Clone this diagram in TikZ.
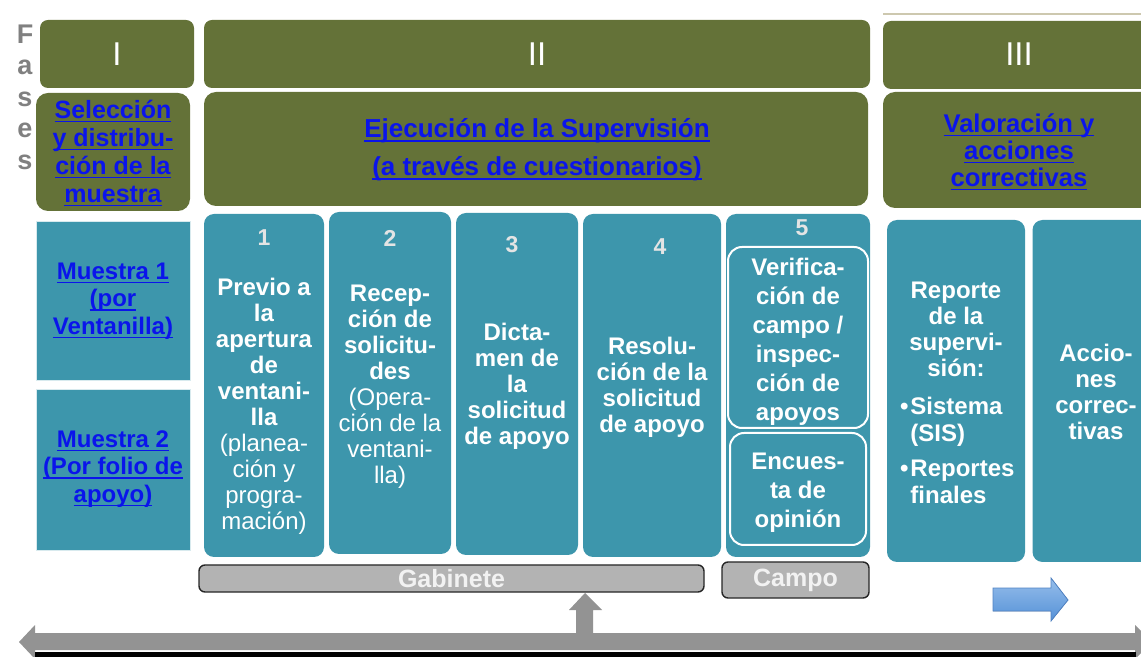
\documentclass[tikz,border=0pt]{standalone}
\usepackage{fontspec}
\setmainfont{Liberation Sans}
\usepackage{xcolor}
\definecolor{fasegreen}{RGB}{100,114,56}
\definecolor{tealbox}{RGB}{61,150,172}
\definecolor{linkblue}{RGB}{10,20,235}
\definecolor{barGray}{RGB}{179,179,179}
\definecolor{arrowGray}{RGB}{147,147,147}
\definecolor{letterGray}{RGB}{128,128,128}
\definecolor{numGray}{RGB}{228,228,228}
\definecolor{lineTan}{RGB}{205,200,175}
\definecolor{blueTop}{RGB}{150,190,235}
\definecolor{blueBot}{RGB}{85,145,215}
\definecolor{blueEdge}{RGB}{80,130,195}
\tikzstyle{phase} = [rectangle,rounded corners=4pt,fill=fasegreen,inner sep=0pt]
\tikzstyle{stage} = [rectangle,rounded corners=5pt,fill=tealbox,inner sep=0pt]
\newlength\lnkwd
\newcommand\lnk[1]{\settowidth\lnkwd{#1}\rlap{\rule[-2pt]{\lnkwd}{0.8pt}}#1}

\begin{document}
\begin{tikzpicture}
        [
            x=0.5pt,y=-0.5pt,
            roman/.style={text=white,font=\fontsize{16.5}{18}\selectfont},
            link/.style={text=linkblue,align=center,font=\fontsize{12.5}{14}\selectfont\bfseries},
            body/.style={text=white,align=center,font=\fontsize{12}{13}\selectfont\bfseries},
            num/.style={text=numGray,font=\fontsize{11.5}{13}\selectfont\bfseries},
            inner/.style={rectangle,rounded corners=7pt,draw=white,line width=1pt,inner sep=0pt},
            tag/.style={rectangle,rounded corners=3pt,fill=barGray,draw=black!85,line width=0.7pt,inner sep=0pt,
                text=white!95!black,font=\fontsize{12.5}{14}\selectfont\bfseries},
        ]
    \useasboundingbox (0,0) rectangle (1141,657);

    % fases
    \node[text=letterGray,align=center,font=\fontsize{13.5}{15.75}\selectfont\bfseries] (fases) at (25,97) {F\\a\\s\\e\\s};
    \draw[lineTan,line width=0.6pt] (883,14) -- (1141,14);

    % headers
    \node[phase,minimum width=77pt,minimum height=34pt] (h1) at (117,54) {};
    \node[phase,minimum width=333pt,minimum height=34pt] (h2) at (537,54) {};
    \node[phase,minimum width=136pt,minimum height=34pt] (h3) at (1019,55) {};
    \node[roman] (r1) at (h1) {I};
    \node[roman] (r2) at (h2) {II};
    \node[roman] (r3) at (1019,54) {III};

    \node[phase,rounded corners=6pt,minimum width=77pt,minimum height=59pt] (sel) at (113,152) {};
    \node[phase,rounded corners=6pt,minimum width=332pt,minimum height=57pt] (eje) at (536,149) {};
    \node[phase,rounded corners=6pt,minimum width=136pt,minimum height=58pt] (val) at (1019,150) {};
    \node[link] (selt) at (113,153) {\lnk{Selección}\\\lnk{y distribu-}\\\lnk{ción de la}\\\lnk{muestra}};
    \node[link,font=\fontsize{13}{19}\selectfont\bfseries] (ejet) at (537,150) {\lnk{Ejecución de la Supervisión}\\\lnk{(a través de cuestionarios)}};
    \node[link,font=\fontsize{12.8}{13.5}\selectfont\bfseries] (valt) at (1019,152) {\lnk{Valoración y}\\\lnk{acciones}\\\lnk{correctivas}};

    % muestras
    \node[rectangle,fill=tealbox,draw=white!80!tealbox,line width=0.4pt,minimum width=77pt,minimum height=79.5pt] (m1) at (113,300.5) {};
    \node[rectangle,fill=tealbox,draw=white!80!tealbox,line width=0.4pt,minimum width=77pt,minimum height=80.5pt] (m2) at (113,469.5) {};
    \node[link,font=\fontsize{12}{13.75}\selectfont\bfseries] (m1t) at (113,301) {\lnk{Muestra 1}\\\lnk{(por}\\\lnk{Ventanilla)}};
    \node[link,font=\fontsize{12}{13.75}\selectfont\bfseries] (m2t) at (113,469) {\lnk{Muestra 2}\\\lnk{(Por folio de}\\\lnk{apoyo)}};

    % etapas
    \node[stage,minimum width=60pt,minimum height=171.5pt] (c1) at (264,385.5) {};
    \node[stage,minimum width=61pt,minimum height=171pt] (c2) at (390,383) {};
    \node[stage,minimum width=61pt,minimum height=171pt] (c3) at (517,384) {};
    \node[stage,minimum width=69pt,minimum height=171.5pt] (c4) at (652,385.5) {};
    \node[stage,minimum width=72pt,minimum height=171.5pt] (c5) at (798,385.5) {};
    \node[stage,minimum width=69pt,minimum height=171pt] (rep) at (956,391) {};
    \node[stage,minimum width=63.5pt,minimum height=171pt] (acc) at (1096,391) {};
    \node[inner,minimum width=70pt,minimum height=90.5pt] (c5a) at (798,337.5) {};
    \node[inner,minimum width=68pt,minimum height=56pt] (c5b) at (798,489) {};

    \foreach \n/\x/\y in {1/264/238,2/390/238,3/512/245,4/660/247,5/802/228}
        \node[num] (n\n) at (\x,\y) {\n};

    \node[body] (c1t) at (264,406) {Previo a\\la\\apertura\\de\\ventani-\\lla\\\mdseries(planea-\\\mdseries ción y\\\mdseries progra-\\\mdseries mación)};
    \node[body] (c2t) at (390,387) {Recep-\\ción de\\solicitu-\\des\\\mdseries(Opera-\\\mdseries ción de la\\\mdseries ventani-\\\mdseries lla)};
    \node[body] (c3t) at (517,386) {Dicta-\\men de\\la\\solicitud\\de apoyo};
    \node[body] (c4t) at (652,387) {Resolu-\\ción de la\\solicitud\\de apoyo};
    \node[body,font=\fontsize{12}{14.5}\selectfont\bfseries] (c5at) at (798,342) {Verifica-\\ción de\\campo /\\inspec-\\ción de\\apoyos};
    \node[body,font=\fontsize{12}{14.5}\selectfont\bfseries] (c5bt) at (798,493) {Encues-\\ta de\\opinión};
    \node[body] (rept) at (956,329) {Reporte\\de la\\supervi-\\sión:};
    \node[body,align=left,anchor=west,font=\fontsize{12}{13.5}\selectfont\bfseries] (repl) at (893,450)
        {\textbullet\hspace{1pt}Sistema\\\phantom{\textbullet\hspace{1pt}}(SIS)\\[4pt]\textbullet\hspace{1pt}Reportes\\\phantom{\textbullet\hspace{1pt}}finales};
    \node[body] (acct) at (1096,392) {Accio-\\nes\\correc-\\tivas};

    % gabinete / campo
    \node[tag,minimum width=252.5pt,minimum height=13.5pt] (gab) at (451.5,578.5) {Gabinete};
    \node[tag,minimum width=73.5pt,minimum height=18pt] (cam) at (795.5,580) {Campo};

    % flechas
    \fill[top color=blueTop,bottom color=blueBot,draw=blueEdge,line width=0.4pt]
        (993,588) -- (1051,588) -- (1051,578) -- (1068,600) -- (1051,621) -- (1051,611) -- (993,611) -- cycle;
    \fill[arrowGray] (19,642) -- (35,625) -- (35,633) -- (576,633) -- (576,610) -- (569,610) -- (585,593)
        -- (602,610) -- (593,610) -- (593,633) -- (1135,633) -- (1135,625) -- (1152,642) -- (1135,659)
        -- (1135,650) -- (35,650) -- (35,659) -- cycle;
    \fill[black] (35,652) rectangle (1136,657);
\end{tikzpicture}
\end{document}
